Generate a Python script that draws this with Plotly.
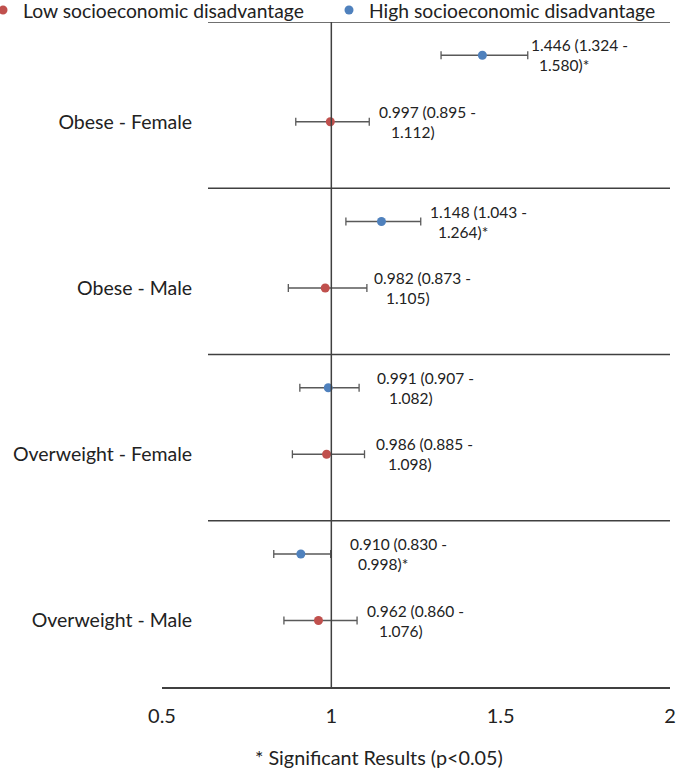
import plotly.graph_objects as go

# ---------------- data ----------------
groups = ["Obese - Female", "Obese - Male", "Overweight - Female", "Overweight - Male"]
high_or = [1.446, 1.148, 0.991, 0.910]
high_lo = [1.324, 1.043, 0.907, 0.830]
high_hi = [1.580, 1.264, 1.082, 0.998]
high_sig = [True, True, False, True]
low_or = [0.997, 0.982, 0.986, 0.962]
low_lo = [0.895, 0.873, 0.885, 0.860]
low_hi = [1.112, 1.105, 1.098, 1.076]
low_sig = [False, False, False, False]
x_ticks = [0.5, 1, 1.5, 2]
x_ticktext = ["0.5", "1", "1.5", "2"]
series_names = ["Low socioeconomic disadvantage", "High socioeconomic disadvantage"]
footnote = "* Significant Results (p<0.05)"

# ---------------- layout constants ----------------
W, H = 677, 771
ML, MR, MT, MB = 162, 7, 22, 84
RED = "#C0504D"
BLUE = "#4F81BD"
LINE = "#404040"
ERR = "#595959"
FONT = "Lato"
TXT = "#222"
NB = "\u00a0"

n = len(groups)
base = [n - 1 - i for i in range(n)]
y_high = [b + 0.8 for b in base]
y_low = [b + 0.4 for b in base]


def label(o, lo, hi, sig):
    pad = NB * (2 if sig else 3)
    return f"{o:.3f} ({lo:.3f} -<br>{pad}{hi:.3f}){'*' if sig else ''}"


fig = go.Figure()
fig.add_trace(go.Scatter(
    x=low_or, y=y_low, mode="markers", name=series_names[0], legend="legend",
    marker=dict(color=RED, size=9),
    error_x=dict(type="data", symmetric=False,
                 array=[h - o for h, o in zip(low_hi, low_or)],
                 arrayminus=[o - l for o, l in zip(low_or, low_lo)],
                 color=ERR, thickness=1.3, width=4),
    hoverinfo="skip",
))
fig.add_trace(go.Scatter(
    x=high_or, y=y_high, mode="markers", name=series_names[1], legend="legend2",
    marker=dict(color=BLUE, size=9),
    error_x=dict(type="data", symmetric=False,
                 array=[h - o for h, o in zip(high_hi, high_or)],
                 arrayminus=[o - l for o, l in zip(high_or, high_lo)],
                 color=ERR, thickness=1.3, width=4),
    hoverinfo="skip",
))

annotations = []
for o, lo, hi, s, y in zip(high_or + low_or, high_lo + low_lo, high_hi + low_hi,
                           high_sig + low_sig, y_high + y_low):
    annotations.append(dict(x=o, y=y, xref="x", yref="y", text=label(o, lo, hi, s),
                            showarrow=False, xanchor="left", yanchor="middle",
                            xshift=47, align="left",
                            font=dict(family=FONT, size=15.5, color=TXT)))

plot_w = W - ML - MR
plot_h = H - MT - MB
sep_x0 = (208 - ML) / plot_w
annotations.append(dict(x=(379 - ML) / plot_w, y=-(757 - (H - MB)) / plot_h,
                        xref="paper", yref="paper", text=footnote, showarrow=False,
                        xanchor="center", yanchor="middle",
                        font=dict(family=FONT, size=19.8, color=TXT)))

shapes = []
for k in range(1, n + 1):
    shapes.append(dict(type="line", xref="paper", yref="y", x0=sep_x0, x1=1, y0=k, y1=k,
                       line=dict(color=LINE, width=1.5)))
shapes.append(dict(type="line", xref="x", yref="y", x0=1, x1=1, y0=0, y1=n,
                   line=dict(color=LINE, width=1.5)))

leg_common = dict(orientation="h", xanchor="left", yanchor="top",
                  y=1 + (MT + 9) / plot_h, itemwidth=30,
                  font=dict(family=FONT, size=19.3, color=TXT),
                  bgcolor="rgba(0,0,0,0)")

fig.update_layout(
    width=W, height=H,
    margin=dict(l=ML, r=MR, t=MT, b=MB, autoexpand=False),
    paper_bgcolor="white", plot_bgcolor="white",
    font=dict(family=FONT, color=TXT),
    showlegend=True,
    legend=dict(x=-(ML + 17) / plot_w, **leg_common),
    legend2=dict(x=(329 - ML) / plot_w, **leg_common),
    xaxis=dict(range=[0.5, 2], tickvals=x_ticks, ticktext=x_ticktext,
               showgrid=False, zeroline=False, showline=True, linecolor=LINE, linewidth=1.5,
               ticks="outside", ticklen=10, tickcolor="rgba(0,0,0,0)",
               tickfont=dict(family=FONT, size=20, color=TXT), fixedrange=True),
    yaxis=dict(range=[0, n], tickvals=y_low, ticktext=groups,
               showgrid=False, zeroline=False, showline=False,
               anchor="free", position=sep_x0,
               ticks="outside", ticklen=12, tickcolor="rgba(0,0,0,0)",
               tickfont=dict(family=FONT, size=19.5, color=TXT), fixedrange=True),
    shapes=shapes, annotations=annotations,
)

fig.write_html("out.html", config={"displayModeBar": False},
               post_script="document.body.style.margin='0';document.body.style.padding='0';")
